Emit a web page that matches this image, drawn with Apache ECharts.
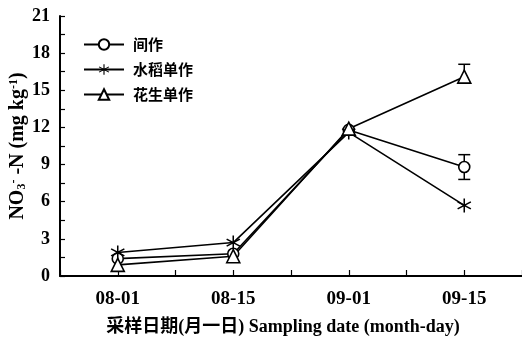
<!DOCTYPE html>
<html>
<head>
<meta charset="utf-8">
<script src="https://cdn.jsdelivr.net/npm/echarts@6/dist/echarts.min.js"></script>
<style>
  html, body { margin: 0; padding: 0; background: #fff; }
  #chart { width: 522px; height: 338px; }
</style>
</head>
<body>
<div id="chart"></div>
<script>
// Sampling dates and NO3--N content (mg/kg)
const dates = ['08-01', '08-15', '09-01', '09-15'];
const seriesNames = ['间作', '水稻单作', '花生单作'];
const intercrop = [1.4, 1.8, 11.8, 8.8];
const riceMono = [1.9, 2.7, 11.6, 5.7];
const peanutMono = [0.9, 1.6, 11.9, 16.1];
// error bars: [dateIndex, value, up, down]
const intercropErr = [[3, 8.8, 1.0, 1.0]];
const peanutErr = [[3, 16.1, 1.0, 0]];

const yTicks = [0, 3, 6, 9, 12, 15, 18, 21];

const serif = '"Liberation Serif", "Times New Roman", serif';
const cjk = '"Noto Sans CJK SC", sans-serif';

// asterisk made of three thin bars
const starPath = 'path://M9,0L11,0L11,20L9,20Z' +
  'M1.84,4.13L19.16,14.13L18.16,15.87L0.84,5.87Z' +
  'M0.84,14.13L18.16,4.13L19.16,5.87L1.84,15.87Z';

const toPairs = arr => arr.map((v, i) => [i, v]);

function errorSeries(data) {
  return {
    type: 'custom',
    silent: true,
    z: 1,
    data: data,
    renderItem: function (params, api) {
      const x = api.value(0), v = api.value(1);
      const up = api.value(2), dn = api.value(3);
      const top = api.coord([x, v + up]);
      const bot = api.coord([x, v - dn]);
      const cap = 6;
      const style = { stroke: '#000', lineWidth: 1.5 };
      const children = [
        { type: 'line', shape: { x1: top[0], y1: top[1], x2: bot[0], y2: bot[1] }, style: style }
      ];
      if (up > 0) children.push({ type: 'line', shape: { x1: top[0] - cap, y1: top[1], x2: top[0] + cap, y2: top[1] }, style: style });
      if (dn > 0) children.push({ type: 'line', shape: { x1: bot[0] - cap, y1: bot[1], x2: bot[0] + cap, y2: bot[1] }, style: style });
      return { type: 'group', children: children };
    }
  };
}

const lineBase = {
  type: 'line',
  lineStyle: { color: '#000', width: 1.6 },
  itemStyle: { color: '#fff', borderColor: '#000', borderWidth: 1.6 },
  z: 3
};

const chart = echarts.init(document.getElementById('chart'), null, { renderer: 'canvas' });
chart.setOption({
  animation: false,
  backgroundColor: '#fff',
  grid: { left: 60, right: 0, top: 16, bottom: 62, containLabel: false, outerBoundsMode: 'none' },
  legend: {
    orient: 'vertical',
    left: 78,
    top: 32,
    itemWidth: 40,
    itemHeight: 13,
    itemGap: 10,
    data: seriesNames,
    textStyle: { fontFamily: cjk, fontWeight: 'bold', fontSize: 15, color: '#000', padding: [0, 0, 0, 4] }
  },
  xAxis: {
    type: 'value',
    min: -0.5,
    max: 3.5,
    interval: 0.5,
    splitLine: { show: false },
    axisLine: { onZero: false, lineStyle: { color: '#000', width: 2 } },
    axisTick: { inside: true, length: 6, lineStyle: { color: '#000', width: 1.2 } },
    axisLabel: {
      margin: 14,
      fontFamily: serif, fontWeight: 'bold', fontSize: 19, color: '#000',
      formatter: v => (Number.isInteger(v) && v >= 0 && v < dates.length) ? dates[v] : ''
    },
    name: '采样日期(月一日) Sampling date (month-day)',
    nameLocation: 'middle',
    nameGap: 42,
    nameMoveOverlap: false,
    nameTextStyle: { fontFamily: serif + ',' + cjk, fontWeight: 'bold', fontSize: 18, color: '#000', padding: [0, 16, 0, 0] }
  },
  yAxis: {
    type: 'value',
    min: 0,
    max: 21,
    interval: 1.5,
    splitLine: { show: false },
    axisLine: { onZero: false, lineStyle: { color: '#000', width: 2 } },
    axisTick: { inside: true, length: 5, lineStyle: { color: '#000', width: 1.2 } },
    axisLabel: {
      margin: 10,
      fontFamily: serif, fontWeight: 'bold', fontSize: 18, color: '#000',
      formatter: v => yTicks.includes(v) ? String(v) : ''
    },
    name: 'NO{sub|3}{sup|-} -N (mg kg{sup|-1})',
    nameLocation: 'middle',
    nameGap: 32,
    nameMoveOverlap: false,
    nameRotate: 90,
    nameTextStyle: {
      fontFamily: serif, fontWeight: 'bold', fontSize: 20, color: '#000',
      rich: {
        sub: { fontFamily: serif, fontWeight: 'bold', fontSize: 12, verticalAlign: 'bottom', padding: [8, 0, 0, 0], color: '#000' },
        sup: { fontFamily: serif, fontWeight: 'bold', fontSize: 12, verticalAlign: 'top', padding: [0, 0, 8, 0], color: '#000' }
      }
    }
  },
  series: [
    Object.assign({}, lineBase, { name: seriesNames[0], data: toPairs(intercrop), symbol: 'circle', symbolSize: 11 }),
    Object.assign({}, lineBase, {
      name: seriesNames[1], data: toPairs(riceMono), symbol: starPath, symbolSize: 14,
      itemStyle: { color: '#000', borderWidth: 0 }
    }),
    Object.assign({}, lineBase, { name: seriesNames[2], data: toPairs(peanutMono), symbol: 'triangle', symbolSize: 13 }),
    errorSeries(intercropErr),
    errorSeries(peanutErr)
  ]
});
</script>
</body>
</html>
